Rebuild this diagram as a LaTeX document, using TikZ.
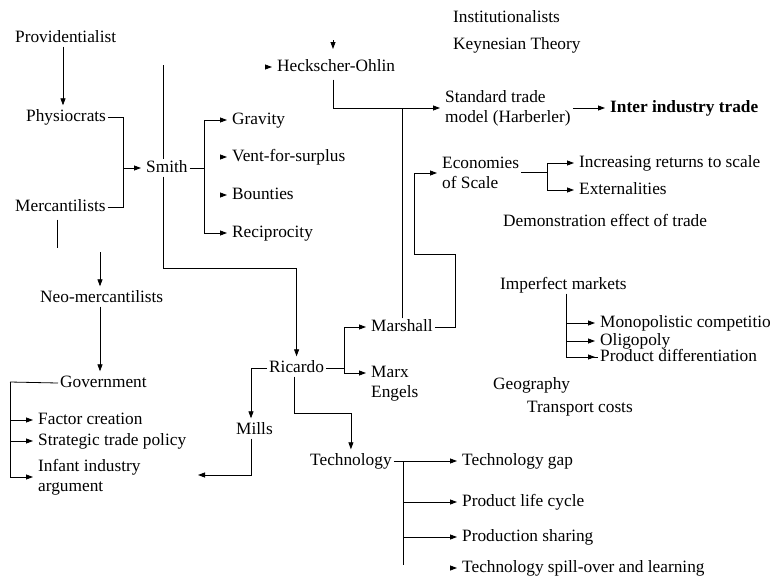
\documentclass[tikz,border=0pt]{standalone}
\usepackage{fontspec}
\setmainfont{Liberation Serif}
\usetikzlibrary{arrows.meta}
\tikzset{
  lbl/.style={inner xsep=2pt, inner ysep=1pt, text height=11.5pt, text depth=3.5pt, anchor=west, font=\fontsize{17.3}{20}\selectfont},
  lbltwo/.style={inner xsep=2pt, inner ysep=1pt, anchor=west, align=left, font=\fontsize{17.3}{20}\selectfont},
  conn/.style={line width=0.8pt},
  arr/.style={conn, -{Triangle[length=7pt,width=5pt]}, shorten >=3pt},
  tiponly/.style={conn, -{Triangle[length=7pt,width=5pt]}}
}
\begin{document}
\begin{tikzpicture}[x=1pt,y=-1pt]
\path[use as bounding box, clip] (0,0) rectangle (770,581);
% nodes
\node[lbl] (inst) at (451,18) {Institutionalists};
\node[lbl] (keyn) at (451,45) {Keynesian Theory};
\node[lbl] (prov) at (13,38) {Providentialist};
\node[lbl] (phys) at (24,117) {Physiocrats};
\node[lbl] (merc) at (13,207) {Mercantilists};
\node[lbl] (smith) at (144,168) {Smith};
\node[lbl] (grav) at (230,120) {Gravity};
\node[lbl] (vent) at (230,157) {Vent-for-surplus};
\node[lbl] (bount) at (230,195) {Bounties};
\node[lbl] (recip) at (230,233) {Reciprocity};
\node[lbl] (ho) at (275,67) {Heckscher-Ohlin};
\node[lbltwo] (std) at (443,108) {Standard trade\\model (Harberler)};
\node[lbl, font=\fontsize{17.3}{20}\selectfont\bfseries] (iit) at (608,108) {Inter industry trade};
\node[lbltwo] (eos) at (440,173) {Economies\\of Scale};
\node[lbl] (irs) at (577,163) {Increasing returns to scale};
\node[lbl] (ext) at (577,190) {Externalities};
\node[lbl] (demo) at (501,222) {Demonstration effect of trade};
\node[lbl] (neo) at (38,298) {Neo-mercantilists};
\node[lbl] (gov) at (58,383) {Government};
\node[lbl] (fc) at (36,420) {Factor creation};
\node[lbl] (stp) at (36,441) {Strategic trade policy};
\node[lbltwo] (inf) at (36,477) {Infant industry\\argument};
\node[lbl] (ric) at (267,368) {Ricardo};
\node[lbl] (mills) at (234,430) {Mills};
\node[lbl] (marsh) at (369,327) {Marshall};
\node[lbltwo] (marx) at (369,384) {Marx\\Engels};
\node[lbl] (tech) at (308,461) {Technology};
\node[lbl] (imp) at (498,285) {Imperfect markets};
\node[lbl] (mono) at (598,323) {Monopolistic competition};
\node[lbl] (oli) at (598,341) {Oligopoly};
\node[lbl] (pd) at (598,357) {Product differentiation};
\node[lbl] (geo) at (491,385) {Geography};
\node[lbl] (trans) at (525,408) {Transport costs};
\node[lbl] (tgap) at (460,461) {Technology gap};
\node[lbl] (plc) at (460,502) {Product life cycle};
\node[lbl] (ps) at (460,537) {Production sharing};
\node[lbl] (tsl) at (460,568) {Technology spill-over and learning};
% coordinates
\coordinate (j1) at (123,168);
\coordinate (stop) at (163,65);
\coordinate (r1) at (163,268);
\coordinate (sb) at (204,168);
\coordinate (hotop) at (333,40);
\coordinate (hotip) at (333,49);
\coordinate (hox) at (333,0);
\coordinate (m1) at (455,254);
\coordinate (m2) at (414,254);
\coordinate (eb) at (547,172);
\coordinate (mx) at (57,0);
\coordinate (neotop) at (100,252);
\coordinate (gl) at (10,382);
\coordinate (rl) at (251,368);
\coordinate (mb) at (195,475);
\coordinate (rr) at (344,368);
\coordinate (rd) at (294,413);
\coordinate (tb) at (403,461);
\coordinate (tbe) at (403,565);
\coordinate (ib) at (566,298);
\coordinate (px) at (63,0);
% connectors
\draw[arr] (prov.south -| px) -- (phys.north -| px);
\draw[conn] (phys.east) -| (j1);
\draw[conn] (merc.east) -| (j1);
\draw[arr] (j1) -- (smith.west);
\draw[conn] (stop) -- (smith.north -| stop);
\draw[arr] (smith.south -| stop) -- (r1) -| (ric.north);
\draw[conn] (smith.east) -- (sb);
\draw[arr] (sb) |- (grav.west);
\draw[arr] (sb) |- (recip.west);
\draw[tiponly] ([xshift=-10pt]vent.west) -- ([xshift=-3pt]vent.west);
\draw[tiponly] ([xshift=-10pt]bount.west) -- ([xshift=-3pt]bount.west);
\draw[tiponly] (hotop) -- (hotip);
\draw[tiponly] ([xshift=-10pt]ho.west) -- ([xshift=-3pt]ho.west);
\draw[arr] ([yshift=-4pt]ho.south -| hox) |- (std.west);
\draw[conn] (marsh.north) -- (marsh.north |- std.west);
\draw[arr] (std.east) -- (iit.west);
\draw[arr] (marsh.east) -| (m1) -- (m2) |- (eos.west);
\draw[conn] (eos.east |- eb) -- (eb);
\draw[arr] (eb) |- (irs.west);
\draw[arr] (eb) |- (ext.west);
\draw[conn] ([yshift=-4pt]merc.south -| mx) -- ++(0,28);
\draw[arr] (neotop) -- (neotop |- neo.north);
\draw[arr] (neo.south -| neotop) -- (neotop |- gov.north);
\draw[conn] (gov.west) -- (gl);
\draw[arr] (gl) |- (fc.west);
\draw[arr] (gl) |- (stp.west);
\draw[arr] (gl) |- (inf.west);
\draw[arr] (ric.west) -- (rl) -- (rl |- mills.north);
\draw[arr] (mills.south -| rl) |- (mb);
\draw[conn] (ric.east) -- (rr);
\draw[arr] (rr) |- (marsh.west);
\draw[arr] (rr) |- ([yshift=11pt]marx.west);
\draw[arr] (ric.south -| rd) -- (rd) -| (tech.north);
\draw[arr] (tech.east) -- (tgap.west);
\draw[conn] (tb) -- (tbe);
\draw[arr] (tb |- plc.west) -- (plc.west);
\draw[arr] (tb |- ps.west) -- (ps.west);
\draw[tiponly] ([xshift=-10pt]tsl.west) -- ([xshift=-3pt]tsl.west);
\draw[conn] (imp.south -| ib) |- (pd.west);
\draw[arr] (ib |- mono.west) -- (mono.west);
\draw[arr] (ib |- oli.west) -- (oli.west);
\draw[arr] (ib |- pd.west) -- (pd.west);
\end{tikzpicture}
\end{document}
